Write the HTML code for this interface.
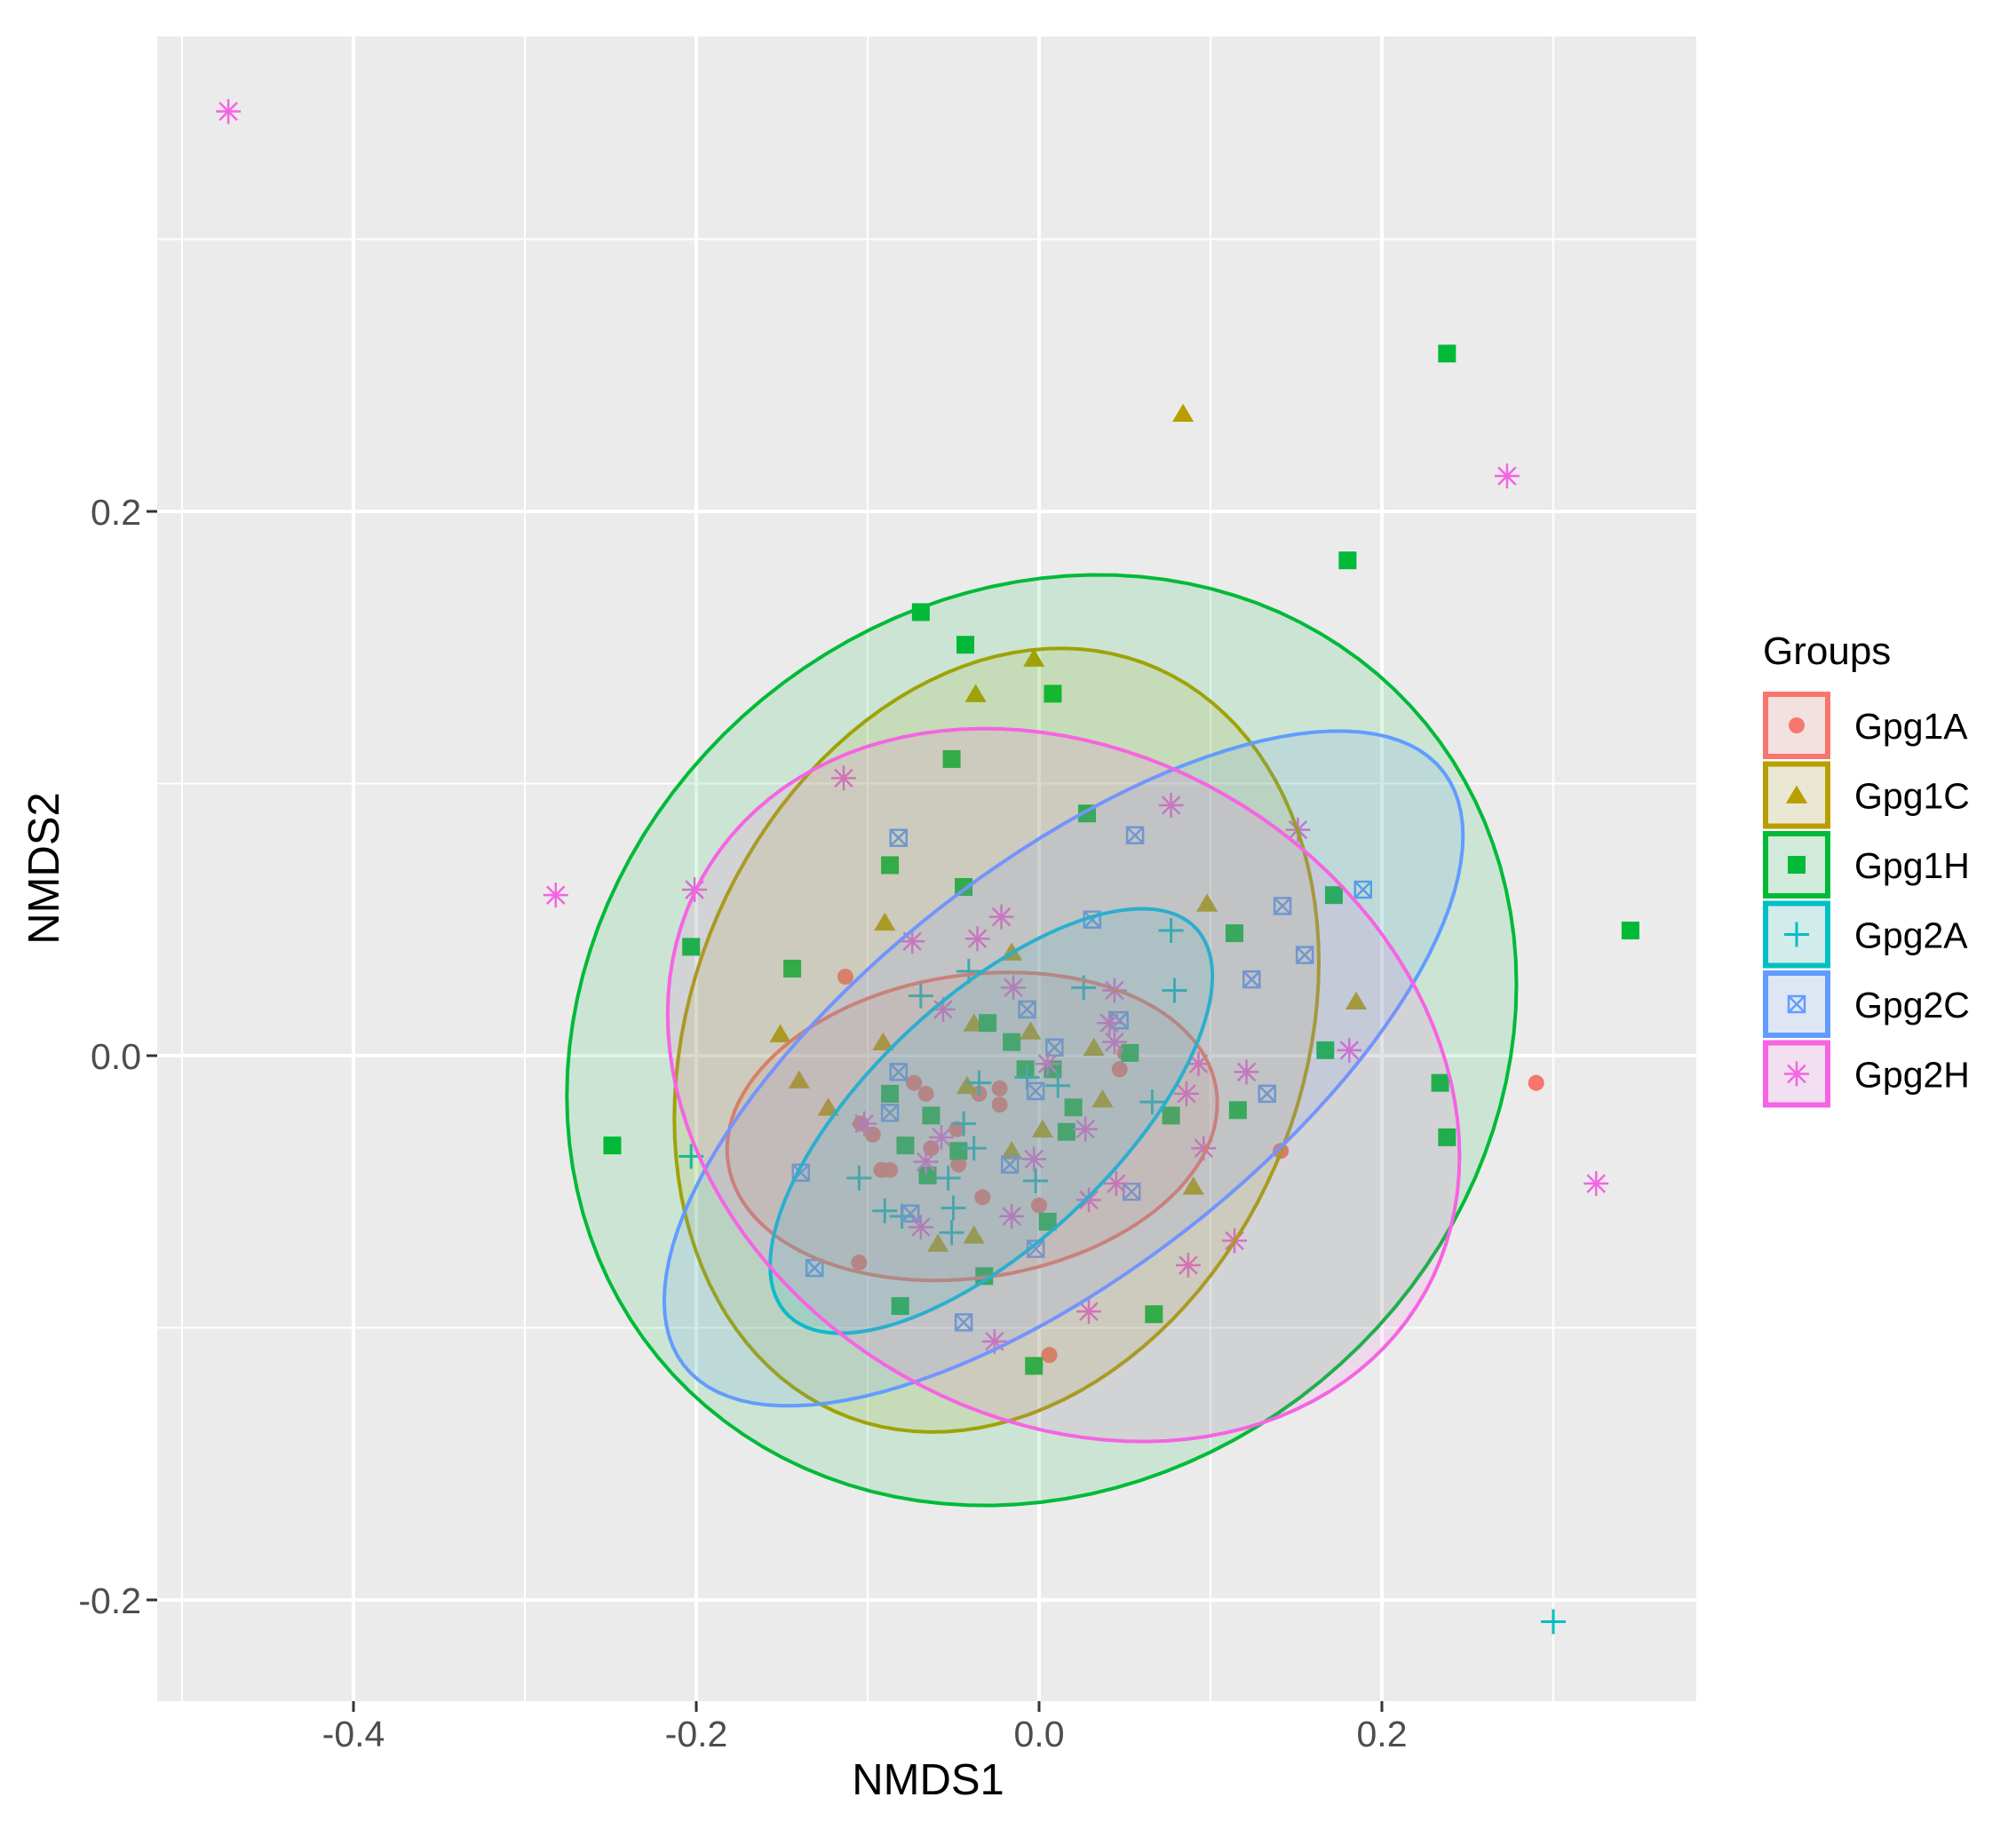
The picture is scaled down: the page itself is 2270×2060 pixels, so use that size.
<!DOCTYPE html>
<html><head><meta charset="utf-8"><style>
html,body{margin:0;padding:0;background:#fff;}
svg{display:block;font-family:"Liberation Sans",sans-serif;}
</style></head><body>
<svg id="chart" width="2270" height="2060" viewBox="0 0 2270 2060" xmlns="http://www.w3.org/2000/svg">
<rect x="177" y="41" width="1733" height="1875" fill="#EBEBEB"/>
<g id="grid"></g>
<g id="points"></g>
<g id="ellipses"></g>
<g id="axes"></g>
<text x="1045" y="2021" font-size="49" text-anchor="middle" fill="#000">NMDS1</text>
<text transform="translate(66,978) rotate(-90)" font-size="49" text-anchor="middle" fill="#000">NMDS2</text>
<g id="legend"></g>
</svg>
<script>
const groups = ["Gpg1A","Gpg1C","Gpg1H","Gpg2A","Gpg2C","Gpg2H"];
const colors = ["#F8766D","#B79F00","#00BA38","#00BFC4","#619CFF","#F564E3"];
const shapes = ["circle","triangle","square","plus","boxx","star"];
const xTicks = [-0.4,-0.2,0.0,0.2];
const xTickLabels = ["-0.4","-0.2","0.0","0.2"];
const yTicks = [-0.2,0.0,0.2];
const yTickLabels = ["-0.2","0.0","0.2"];
const xMinor = [-0.5,-0.3,-0.1,0.1,0.3];
const yMinor = [-0.1,0.1,0.3];

const g1aX = [-0.113,-0.073,-0.066,-0.035,-0.023,-0.023,-0.048,-0.063,-0.087,-0.092,-0.097,-0.104,-0.047,-0.033,0.000,0.047,0.050,0.141,-0.105,0.006,0.290];
const g1aY = [0.029,-0.010,-0.014,-0.014,-0.012,-0.018,-0.027,-0.034,-0.042,-0.042,-0.029,-0.025,-0.040,-0.052,-0.055,-0.005,0.001,-0.035,-0.076,-0.110,-0.010];
const g1cX = [0.084,-0.003,-0.037,-0.090,-0.091,-0.151,-0.140,-0.123,-0.038,-0.016,-0.005,0.032,0.037,0.002,-0.042,-0.016,-0.059,-0.038,0.090,0.098,0.185];
const g1cY = [0.236,0.146,0.133,0.049,0.005,0.008,-0.009,-0.019,0.012,0.038,0.009,0.003,-0.016,-0.027,-0.011,-0.035,-0.069,-0.066,-0.048,0.056,0.020];
const g1hX = [0.238,0.180,-0.069,-0.043,0.008,-0.051,0.028,-0.087,-0.044,0.172,0.345,-0.203,-0.144,0.114,-0.030,-0.016,-0.008,0.008,-0.087,-0.078,-0.063,-0.047,-0.065,0.016,0.020,0.053,0.077,0.116,0.167,0.234,0.238,-0.249,-0.081,-0.032,0.005,0.067,-0.003];
const g1hY = [0.258,0.182,0.163,0.151,0.133,0.109,0.089,0.070,0.062,0.059,0.046,0.040,0.032,0.045,0.012,0.005,-0.005,-0.005,-0.014,-0.033,-0.022,-0.035,-0.044,-0.028,-0.019,0.001,-0.022,-0.020,0.002,-0.010,-0.030,-0.033,-0.092,-0.081,-0.061,-0.095,-0.114];
const g2aX = [0.300,0.077,0.079,0.026,-0.041,-0.069,-0.035,-0.007,0.011,0.066,-0.038,-0.044,-0.053,-0.105,-0.090,-0.080,-0.050,-0.051,-0.002,-0.203];
const g2aY = [-0.208,0.046,0.024,0.025,0.031,0.022,-0.010,-0.008,-0.011,-0.017,-0.034,-0.025,-0.045,-0.045,-0.057,-0.059,-0.056,-0.065,-0.046,-0.037];
const g2cX = [-0.082,0.056,0.189,0.031,0.142,0.155,0.124,-0.007,0.047,0.009,-0.082,-0.087,-0.002,0.133,-0.139,-0.017,0.054,-0.075,-0.131,-0.002,-0.044];
const g2cY = [0.080,0.081,0.061,0.050,0.055,0.037,0.028,0.017,0.013,0.003,-0.006,-0.021,-0.013,-0.014,-0.043,-0.040,-0.050,-0.058,-0.078,-0.071,-0.098];
const g2hX = [-0.473,0.273,-0.114,0.077,0.151,-0.282,-0.201,-0.022,-0.074,-0.036,-0.015,-0.056,0.044,0.041,0.005,0.044,0.093,0.121,0.181,-0.102,-0.057,-0.066,-0.003,0.027,0.096,0.086,0.045,0.029,-0.016,-0.069,0.114,0.087,0.029,-0.026,0.325];
const g2hY = [0.347,0.213,0.102,0.092,0.083,0.059,0.061,0.051,0.042,0.043,0.025,0.017,0.024,0.012,-0.003,0.005,-0.003,-0.006,0.002,-0.025,-0.030,-0.039,-0.038,-0.027,-0.034,-0.014,-0.047,-0.053,-0.059,-0.063,-0.068,-0.077,-0.094,-0.105,-0.047];

const ellCx = [-0.039,-0.0248,0.0015,-0.0279,0.0143,0.0143];
const ellCy = [-0.026,0.0057,0.0057,-0.024,-0.0047,-0.0108];
const ellRx = [0.143,0.188,0.277,0.129,0.233,0.231];
const ellRy = [0.0566,0.144,0.171,0.078,0.124,0.131];
const ellPhi = [0.15,0.2,0.12,0.75,0.76,-0.2];

const NS="http://www.w3.org/2000/svg";
const X0=1170, XS=1930, Y0=1189, YS=3065, L=177, T=41, R=1910, B=1916;
const sx=v=>X0+v*XS, sy=v=>Y0-v*YS;
function mk(tag,attrs,parent){const e=document.createElementNS(NS,tag);for(const k in attrs)e.setAttribute(k,attrs[k]);parent.appendChild(e);return e;}

const grid=document.getElementById('grid');
xMinor.forEach(v=>{const e=mk('line',{x1:sx(v),x2:sx(v),y1:T,y2:B,stroke:'#fff','stroke-width':2},grid);

});
yMinor.forEach(v=>{const e=mk('line',{x1:L,x2:R,y1:sy(v),y2:sy(v),stroke:'#fff','stroke-width':2},grid);

});
xTicks.forEach(v=>{const e=mk('line',{x1:sx(v),x2:sx(v),y1:T,y2:B,stroke:'#fff','stroke-width':4},grid);

});
yTicks.forEach(v=>{const e=mk('line',{x1:L,x2:R,y1:sy(v),y2:sy(v),stroke:'#fff','stroke-width':4},grid);

});

const axes=document.getElementById('axes');
xTicks.forEach((v,i)=>{const t=mk('line',{x1:sx(v),x2:sx(v),y1:B,y2:B+12,stroke:'#333','stroke-width':3},axes);


const l=mk('text',{x:sx(v),y:1967,'font-size':41,'text-anchor':'middle',fill:'#4D4D4D'},axes);l.textContent=xTickLabels[i];

});
yTicks.forEach((v,i)=>{const t=mk('line',{x1:L-12,x2:L,y1:sy(v),y2:sy(v),stroke:'#333','stroke-width':3},axes);


const l=mk('text',{x:L-18,y:sy(v)+15,'font-size':41,'text-anchor':'end',fill:'#4D4D4D'},axes);l.textContent=yTickLabels[i];

});

function marker(shape,cx,cy,col,parent,s){
  s=s||1;let e;
  if(shape==='circle') e=mk('circle',{cx:cx,cy:cy,r:9*s,fill:col},parent);
  else if(shape==='triangle'){const h=11*s;e=mk('polygon',{points:`${cx},${cy-h} ${cx+h*1.1},${cy+h*0.85} ${cx-h*1.1},${cy+h*0.85}`,fill:col},parent);}
  else if(shape==='square') e=mk('rect',{x:cx-10*s,y:cy-10*s,width:20*s,height:20*s,fill:col},parent);
  else if(shape==='plus'){const a=14*s;e=mk('path',{d:`M${cx-a},${cy}H${cx+a}M${cx},${cy-a}V${cy+a}`,stroke:col,'stroke-width':3,fill:'none'},parent);}
  else if(shape==='boxx'){const a=9*s;e=mk('path',{d:`M${cx-a},${cy-a}h${2*a}v${2*a}h${-2*a}zM${cx-a},${cy-a}L${cx+a},${cy+a}M${cx+a},${cy-a}L${cx-a},${cy+a}`,stroke:col,'stroke-width':2.5,fill:'none'},parent);}
  else {const a=14*s,d=a*0.707;e=mk('path',{d:`M${cx-a},${cy}H${cx+a}M${cx},${cy-a}V${cy+a}M${cx-d},${cy-d}L${cx+d},${cy+d}M${cx+d},${cy-d}L${cx-d},${cy+d}`,stroke:col,'stroke-width':2.5,fill:'none'},parent);}
  return e;
}
const allX=[g1aX,g1cX,g1hX,g2aX,g2cX,g2hX], allY=[g1aY,g1cY,g1hY,g2aY,g2cY,g2hY];
const pts=document.getElementById('points');
groups.forEach((gname,gi)=>{allX[gi].forEach((xv,i)=>{
  const e=marker(shapes[gi],sx(xv),sy(allY[gi][i]),colors[gi],pts);
  
  
});});

const ell=document.getElementById('ellipses');
groups.forEach((gname,gi)=>{
  let d='';
  for(let k=0;k<=120;k++){const t=k/120*2*Math.PI;
    const xv=ellCx[gi]+ellRx[gi]*Math.cos(t), yv=ellCy[gi]+ellRy[gi]*Math.sin(t+ellPhi[gi]);
    d+=(k?'L':'M')+sx(xv).toFixed(1)+','+sy(yv).toFixed(1);}
  const e=mk('path',{d:d+'Z',fill:colors[gi],'fill-opacity':0.13,stroke:colors[gi],'stroke-width':4},ell);
  
  
});

const lg=document.getElementById('legend');
const tt=mk('text',{x:1985,y:748,'font-size':44,fill:'#000'},lg);tt.textContent='Groups';


groups.forEach((gname,gi)=>{
  const top=779+gi*78.5;
  const k=mk('rect',{x:1988,y:top+3,width:70,height:70,fill:'#F2F2F2',stroke:colors[gi],'stroke-width':6},lg);
  
  
  mk('rect',{x:1988,y:top+3,width:70,height:70,fill:colors[gi],'fill-opacity':0.13},lg);
  const m=marker(shapes[gi],2023,top+38,colors[gi],lg,1.0);
  
  
  const l=mk('text',{x:2088,y:top+53,'font-size':41,fill:'#000'},lg);l.textContent=gname;
  
  
});
</script>
</body></html>
